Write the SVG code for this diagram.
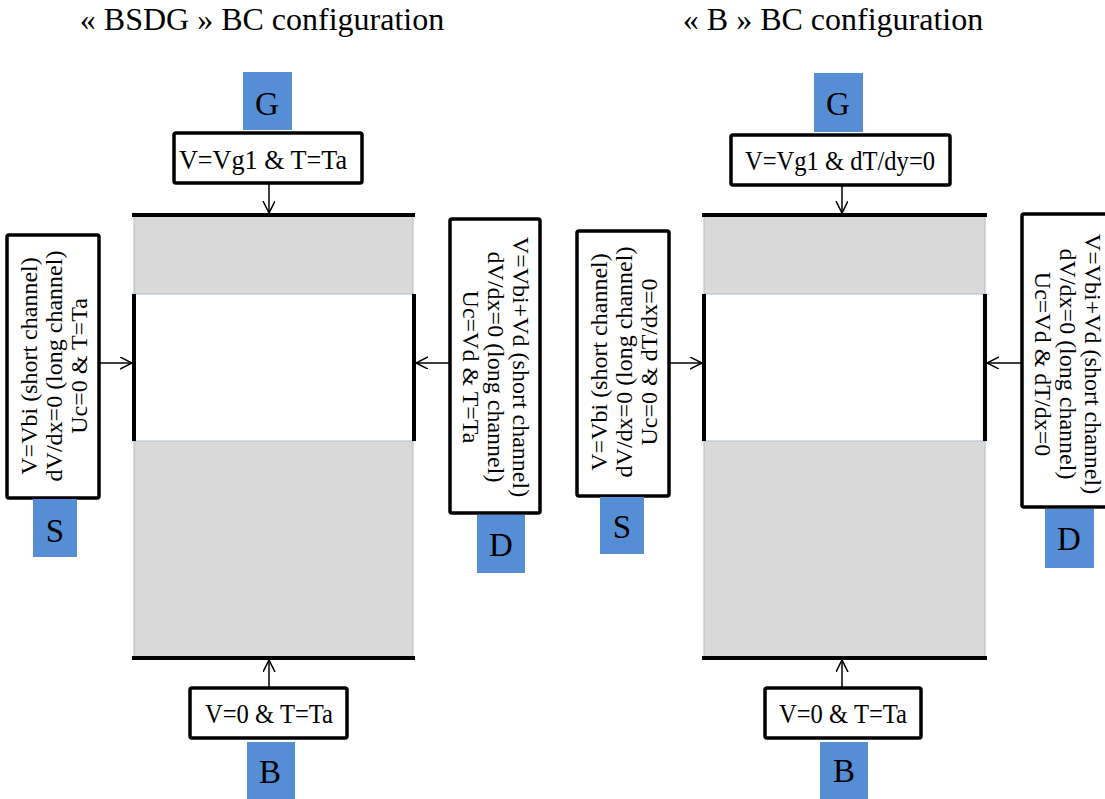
<svg xmlns="http://www.w3.org/2000/svg" width="1105" height="799" viewBox="0 0 1105 799">
  <style>
    .t { font-family: "Liberation Serif", "Times New Roman", serif; fill: #000; }
    .title { font-size: 32px; text-anchor: middle; }
    .cond { font-size: 28px; text-anchor: middle; }
    .vcond { font-size: 24px; text-anchor: middle; }
    .tag { font-size: 33px; text-anchor: middle; }
    .box { fill: #fff; stroke: #000; stroke-width: 3.5; }
    .label { fill: #558ed5; }
    .body { fill: #d9d9d9; stroke: #b4bcc6; stroke-width: 1; }
    .chan { fill: #fff; stroke: #a9bcd3; stroke-width: 1; }
    .contact { stroke: #000; stroke-width: 4; fill: none; }
    .link { stroke: #000; stroke-width: 1.5; fill: none; marker-end: url(#open); }
  </style>
  <defs>
    <marker id="open" markerUnits="userSpaceOnUse" markerWidth="14" markerHeight="14" refX="12" refY="6" orient="auto">
      <path d="M0,0 L12,6 L0,12" fill="none" stroke="#000" stroke-width="1.5"/>
    </marker>
  </defs>

  <rect width="1105" height="799" fill="#fff"/>

  <!-- titles -->
  <text class="t title" x="262" y="30">« BSDG » BC configuration</text>
  <text class="t title" x="833" y="30">« B » BC configuration</text>

  <!-- ===== BSDG configuration ===== -->
  <g id="device-left">
    <rect class="body" x="134" y="215" width="279" height="442"/>
    <rect class="chan" x="134" y="294" width="279" height="147"/>
    <line class="contact" x1="132" y1="215" x2="415" y2="215"/>
    <line class="contact" x1="132" y1="658" x2="415" y2="658"/>
    <line class="contact" x1="134" y1="294" x2="134" y2="441"/>
    <line class="contact" x1="414" y1="294" x2="414" y2="441"/>
  </g>

  <g id="gate-left">
    <rect class="label" x="243" y="72" width="49" height="58"/>
    <text class="t tag" x="267" y="115">G</text>
    <rect class="box" x="174" y="133" width="188" height="50" rx="2"/>
    <text class="t cond" x="263" y="169" textLength="168" lengthAdjust="spacingAndGlyphs">V=Vg1 &amp; T=Ta</text>
  </g>

  <g id="back-left">
    <rect class="box" x="190" y="688" width="157" height="50" rx="2"/>
    <text class="t cond" x="269" y="723" textLength="128" lengthAdjust="spacingAndGlyphs">V=0 &amp; T=Ta</text>
    <rect class="label" x="247" y="742" width="48" height="57"/>
    <text class="t tag" x="270" y="783">B</text>
  </g>

  <g id="source-left">
    <rect class="box" x="7" y="235" width="92" height="263" rx="2"/>
    <g transform="translate(0,366) rotate(-90)">
      <text class="t vcond" x="0" y="37">V=Vbi (short channel)</text>
      <text class="t vcond" x="0" y="62">dV/dx=0 (long channel)</text>
      <text class="t vcond" x="0" y="87">Uc=0 &amp; T=Ta</text>
    </g>
    <rect class="label" x="33" y="499" width="44" height="58"/>
    <text class="t tag" x="55" y="542">S</text>
  </g>

  <g id="drain-left">
    <rect class="box" x="450" y="219" width="90" height="294" rx="2"/>
    <g transform="translate(0,367) rotate(90)">
      <text class="t vcond" x="0" y="-513">V=Vbi+Vd (short channel)</text>
      <text class="t vcond" x="0" y="-488">dV/dx=0 (long channel)</text>
      <text class="t vcond" x="0" y="-463">Uc=Vd &amp; T=Ta</text>
    </g>
    <rect class="label" x="477" y="515" width="48" height="58"/>
    <text class="t tag" x="501" y="556">D</text>
  </g>

  <!-- ===== B configuration ===== -->
  <g id="device-right">
    <rect class="body" x="704" y="215" width="281" height="442"/>
    <rect class="chan" x="704" y="294" width="281" height="147"/>
    <line class="contact" x1="702" y1="215" x2="987" y2="215"/>
    <line class="contact" x1="702" y1="658" x2="987" y2="658"/>
    <line class="contact" x1="704" y1="294" x2="704" y2="441"/>
    <line class="contact" x1="985" y1="294" x2="985" y2="441"/>
  </g>

  <g id="gate-right">
    <rect class="label" x="814" y="73" width="49" height="59"/>
    <text class="t tag" x="838" y="115">G</text>
    <rect class="box" x="731" y="135" width="219" height="50" rx="2"/>
    <text class="t cond" x="840" y="170" textLength="190" lengthAdjust="spacingAndGlyphs">V=Vg1 &amp; dT/dy=0</text>
  </g>

  <g id="back-right">
    <rect class="box" x="765" y="688" width="156" height="50" rx="2"/>
    <text class="t cond" x="843" y="723" textLength="128" lengthAdjust="spacingAndGlyphs">V=0 &amp; T=Ta</text>
    <rect class="label" x="820" y="742" width="48" height="57"/>
    <text class="t tag" x="844" y="782">B</text>
  </g>

  <g id="source-right">
    <rect class="box" x="577" y="231" width="92" height="265" rx="2"/>
    <g transform="translate(0,362) rotate(-90)">
      <text class="t vcond" x="0" y="607">V=Vbi (short channel)</text>
      <text class="t vcond" x="0" y="632">dV/dx=0 (long channel)</text>
      <text class="t vcond" x="0" y="657">Uc=0 &amp; dT/dx=0</text>
    </g>
    <rect class="label" x="600" y="497" width="44" height="57"/>
    <text class="t tag" x="622" y="538">S</text>
  </g>

  <g id="drain-right">
    <rect class="box" x="1022" y="214" width="100" height="293" rx="2"/>
    <g transform="translate(0,364) rotate(90)">
      <text class="t vcond" x="0" y="-1085">V=Vbi+Vd (short channel)</text>
      <text class="t vcond" x="0" y="-1060">dV/dx=0 (long channel)</text>
      <text class="t vcond" x="0" y="-1035">Uc=Vd &amp; dT/dx=0</text>
    </g>
    <rect class="label" x="1045" y="509" width="49" height="59"/>
    <text class="t tag" x="1069" y="550">D</text>
  </g>

  <!-- boundary-condition arrows -->
  <g id="connectors">
    <line class="link" x1="269" y1="184" x2="269" y2="213"/>
    <line class="link" x1="269" y1="687" x2="269" y2="660"/>
    <line class="link" x1="100" y1="363" x2="132" y2="363"/>
    <line class="link" x1="449" y1="363" x2="416" y2="363"/>
    <line class="link" x1="842" y1="186" x2="842" y2="213"/>
    <line class="link" x1="842" y1="687" x2="842" y2="660"/>
    <line class="link" x1="670" y1="363" x2="702" y2="363"/>
    <line class="link" x1="1021" y1="363" x2="987" y2="363"/>
  </g>
</svg>
